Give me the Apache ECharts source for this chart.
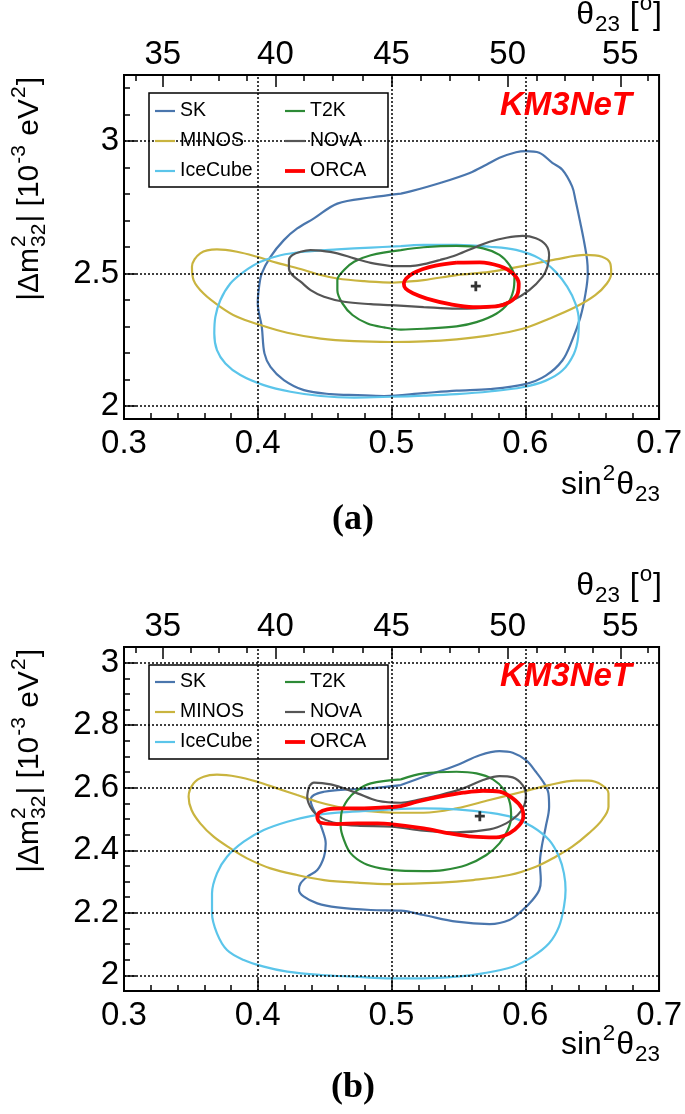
<!DOCTYPE html>
<html><head><meta charset="utf-8">
<script src="https://cdn.jsdelivr.net/npm/echarts@6/dist/echarts.min.js"></script>
<style>html,body{margin:0;padding:0;background:#fff}#c{width:685px;height:1114px}</style>
</head><body><div id="c"></div><script>
// ---------- tick labels ----------
const xTicks = [0.3, 0.4, 0.5, 0.6, 0.7];
const thetaTicks = [35, 40, 45, 50, 55];
const thetaMinor = [33.75,35,36.25,37.5,38.75,40,41.25,42.5,43.75,45,46.25,47.5,48.75,50,51.25,52.5,53.75,55,56.25];
const yMajorA = [2, 2.5, 3];
const yMinorA = [2.0,2.1,2.2,2.3,2.4,2.5,2.6,2.7,2.8,2.9,3.0,3.1,3.2];
const yMajorB = [2, 2.2, 2.4, 2.6, 2.8, 3];
const yMinorB = [2.0,2.05,2.1,2.15,2.2,2.25,2.3,2.35,2.4,2.45,2.5,2.55,2.6,2.65,2.7,2.75,2.8,2.85,2.9,2.95,3.0];
const seriesNames = ['SK','MINOS','IceCube','T2K','NOvA','ORCA'];

// ---------- panel (a) contours ----------
const skA = [[0.507,2.802],[0.4845,2.787],[0.4595,2.764],[0.442,2.708],[0.4295,2.670],[0.4195,2.626],[0.4095,2.563],[0.403,2.5],[0.401,2.45],[0.400,2.387],[0.403,2.298],[0.405,2.198],[0.4095,2.147],[0.4195,2.097],[0.4345,2.059],[0.4545,2.044],[0.4745,2.040],[0.4945,2.037],[0.524,2.048],[0.5486,2.057],[0.5733,2.063],[0.6,2.082],[0.6153,2.114],[0.6277,2.171],[0.635,2.247],[0.6412,2.335],[0.645,2.424],[0.6467,2.5],[0.6462,2.551],[0.6437,2.627],[0.6412,2.690],[0.6375,2.778],[0.635,2.829],[0.6277,2.892],[0.6202,2.918],[0.6104,2.956],[0.6005,2.962],[0.5931,2.958],[0.5807,2.937],[0.5709,2.911],[0.5585,2.880],[0.5363,2.842],[0.5141,2.810]];
const minosA = [[0.5,2.465],[0.524,2.475],[0.5486,2.494],[0.5733,2.506],[0.598,2.528],[0.6227,2.553],[0.6449,2.570],[0.6573,2.563],[0.6635,2.538],[0.6642,2.5],[0.661,2.462],[0.6523,2.418],[0.6375,2.373],[0.6178,2.329],[0.598,2.291],[0.5733,2.266],[0.5486,2.251],[0.524,2.243],[0.4993,2.241],[0.472,2.244],[0.447,2.254],[0.422,2.276],[0.402,2.305],[0.3845,2.336],[0.372,2.374],[0.3595,2.424],[0.352,2.475],[0.3508,2.525],[0.357,2.576],[0.3695,2.591],[0.3845,2.582],[0.3995,2.563],[0.4145,2.540],[0.4345,2.513],[0.447,2.494],[0.4595,2.481],[0.4795,2.471]];
const icecubeA = [[0.507,2.603],[0.4845,2.598],[0.4595,2.591],[0.4345,2.582],[0.417,2.569],[0.402,2.544],[0.3895,2.506],[0.3795,2.462],[0.372,2.399],[0.3683,2.336],[0.3675,2.273],[0.3695,2.210],[0.3758,2.160],[0.387,2.116],[0.4045,2.078],[0.4245,2.053],[0.447,2.037],[0.472,2.031],[0.5,2.034],[0.524,2.038],[0.5486,2.044],[0.5733,2.054],[0.598,2.070],[0.6153,2.095],[0.6277,2.133],[0.6363,2.196],[0.6395,2.259],[0.64,2.323],[0.6375,2.386],[0.6314,2.449],[0.6227,2.506],[0.6104,2.557],[0.5931,2.589],[0.5733,2.601],[0.5486,2.608],[0.524,2.608]];
const t2kA = [[0.507,2.588],[0.4845,2.569],[0.472,2.544],[0.4645,2.513],[0.4595,2.475],[0.4595,2.437],[0.4633,2.387],[0.4708,2.343],[0.482,2.311],[0.4945,2.296],[0.507,2.288],[0.524,2.291],[0.5486,2.300],[0.5635,2.316],[0.5783,2.348],[0.5869,2.386],[0.5911,2.437],[0.5919,2.487],[0.5881,2.532],[0.5807,2.570],[0.5684,2.595],[0.5486,2.604],[0.524,2.599]];
const novaA = [[0.4995,2.528],[0.4845,2.540],[0.472,2.557],[0.4595,2.576],[0.447,2.586],[0.4395,2.588],[0.432,2.582],[0.4258,2.569],[0.4233,2.550],[0.4233,2.519],[0.4258,2.494],[0.432,2.469],[0.4395,2.437],[0.4495,2.412],[0.4645,2.393],[0.4845,2.384],[0.5,2.380],[0.524,2.373],[0.5486,2.367],[0.5733,2.373],[0.5906,2.399],[0.603,2.437],[0.6128,2.487],[0.6165,2.525],[0.6178,2.570],[0.6153,2.608],[0.6079,2.633],[0.598,2.642],[0.5857,2.635],[0.5733,2.620],[0.5635,2.601],[0.5486,2.570],[0.5363,2.551],[0.524,2.535],[0.5141,2.528]];
const orcaA = [[0.5486,2.541],[0.5659,2.542],[0.5807,2.528],[0.5906,2.5],[0.5951,2.462],[0.5943,2.424],[0.5881,2.392],[0.5783,2.376],[0.561,2.373],[0.5437,2.384],[0.5264,2.405],[0.5160,2.425],[0.5105,2.443],[0.5092,2.462],[0.5110,2.481],[0.5160,2.500],[0.5230,2.516],[0.5330,2.530]];
const bestA = [[0.563,2.452]];

// ---------- panel (b) contours ----------
const skB = [[0.507,2.6085],[0.4845,2.598],[0.4595,2.5925],[0.4495,2.587],[0.442,2.5766],[0.4395,2.561],[0.4408,2.539],[0.4445,2.507],[0.4483,2.465],[0.4508,2.422],[0.4495,2.379],[0.4445,2.337],[0.437,2.3155],[0.432,2.294],[0.4308,2.273],[0.4345,2.2516],[0.4445,2.2303],[0.4595,2.2175],[0.4845,2.209],[0.507,2.207],[0.524,2.193],[0.5486,2.1717],[0.5733,2.164],[0.5881,2.177],[0.598,2.209],[0.6054,2.241],[0.6104,2.273],[0.6116,2.305],[0.6109,2.358],[0.6123,2.4114],[0.6153,2.4753],[0.6178,2.539],[0.6173,2.582],[0.6141,2.614],[0.6079,2.651],[0.6005,2.688],[0.5906,2.712],[0.5807,2.717],[0.5659,2.704],[0.5486,2.672],[0.524,2.635]];
const minosB = [[0.5,2.5201],[0.524,2.520],[0.5486,2.534],[0.5733,2.5606],[0.598,2.5872],[0.6178,2.6085],[0.6375,2.6224],[0.6474,2.6224],[0.6573,2.6085],[0.6622,2.5819],[0.6622,2.5393],[0.6573,2.4966],[0.6474,2.454],[0.6351,2.4114],[0.6227,2.3794],[0.6079,2.3475],[0.5881,2.3208],[0.561,2.3048],[0.5363,2.2963],[0.4993,2.292],[0.4745,2.2963],[0.4495,2.3048],[0.4295,2.3208],[0.4095,2.3421],[0.392,2.3741],[0.3795,2.4061],[0.367,2.4434],[0.357,2.486],[0.3505,2.5286],[0.3483,2.5712],[0.352,2.6139],[0.3595,2.6352],[0.3695,2.6416],[0.3845,2.6352],[0.3995,2.6192],[0.4145,2.598],[0.4295,2.5766],[0.4445,2.5553],[0.4595,2.5393],[0.4745,2.5286]];
const icecubeB = [[0.5,2.5307],[0.4845,2.5265],[0.4595,2.5201],[0.4395,2.5094],[0.422,2.4913],[0.4045,2.4647],[0.3895,2.4274],[0.377,2.3794],[0.3695,2.3262],[0.3658,2.2622],[0.3658,2.1983],[0.3695,2.1344],[0.377,2.0811],[0.3895,2.0491],[0.4045,2.0278],[0.422,2.0118],[0.447,2.0012],[0.472,1.9958],[0.5,1.9905],[0.524,1.9905],[0.5486,1.9958],[0.5684,2.0065],[0.5906,2.0278],[0.6054,2.0598],[0.6178,2.1024],[0.6252,2.1557],[0.6289,2.2196],[0.6301,2.2729],[0.6289,2.3262],[0.6252,2.3794],[0.6178,2.4327],[0.6054,2.4753],[0.5906,2.5052],[0.5733,2.5201],[0.5486,2.5307],[0.524,2.534]];
const t2kB = [[0.507,2.6266],[0.4845,2.6139],[0.4745,2.5925],[0.467,2.5606],[0.4625,2.518],[0.462,2.4753],[0.4645,2.4327],[0.4695,2.39],[0.4795,2.3581],[0.492,2.3421],[0.507,2.3347],[0.524,2.3336],[0.5388,2.3368],[0.556,2.3528],[0.5709,2.3848],[0.5807,2.422],[0.5869,2.4647],[0.5894,2.5073],[0.5886,2.5499],[0.5844,2.5925],[0.5758,2.6266],[0.5635,2.6458],[0.5486,2.6511],[0.524,2.6458]];
const novaB = [[0.4383,2.6032],[0.442,2.616],[0.4545,2.6107],[0.4645,2.5979],[0.4745,2.5819],[0.4895,2.5584],[0.507,2.552],[0.519,2.5606],[0.5363,2.5766],[0.5536,2.5979],[0.5684,2.6245],[0.5807,2.6373],[0.5906,2.633],[0.598,2.6085],[0.6005,2.5766],[0.5993,2.5446],[0.5943,2.5126],[0.5857,2.486],[0.5733,2.4668],[0.5486,2.4572],[0.524,2.4625],[0.5,2.4753],[0.4745,2.4785],[0.4595,2.486],[0.4483,2.502],[0.4408,2.5286],[0.437,2.5712]];
const orcaB = [[0.4795,2.5339],[0.4945,2.5371],[0.507,2.5414],[0.519,2.5552],[0.5363,2.5712],[0.5536,2.584],[0.5684,2.5904],[0.5807,2.5872],[0.5906,2.5659],[0.5975,2.5339],[0.5985,2.5073],[0.5956,2.4807],[0.5881,2.454],[0.5783,2.4412],[0.561,2.4434],[0.5437,2.454],[0.524,2.47],[0.4993,2.4839],[0.4895,2.486],[0.4745,2.486],[0.4595,2.4839],[0.447,2.4881],[0.4445,2.5052],[0.4458,2.5201],[0.452,2.5307],[0.4645,2.5339]];
const bestB = [[0.566,2.509]];

// ---------- styles ----------
const FONT = '"Liberation Sans", Arial, Helvetica, sans-serif';
const COLORS = {SK:'#4a76ad', MINOS:'#c9b43f', IceCube:'#5bc5ea', T2K:'#2d8a36', NOvA:'#555555', ORCA:'#ff0000'};
const WIDTHS = {SK:2.2, MINOS:2.2, IceCube:2.2, T2K:2.2, NOvA:2.2, ORCA:3.8};

function sin2(d){const s=Math.sin(d*Math.PI/180);return s*s;}
function deg(v){return Math.asin(Math.sqrt(v))*180/Math.PI;}
function closeLoop(a){return a.concat([a[0]]);}

const panels = [
  {top:75, height:344, ymin:1.95, ymax:3.25, yMajor:yMajorA, yMinor:yMinorA,
   curves:{SK:skA, MINOS:minosA, IceCube:icecubeA, T2K:t2kA, NOvA:novaA, ORCA:orcaA}, best:bestA, gridY:yMajorA},
  {top:647, height:344, ymin:1.95, ymax:3.05, yMajor:yMajorB, yMinor:yMinorB,
   curves:{SK:skB, MINOS:minosB, IceCube:icecubeB, T2K:t2kB, NOvA:novaB, ORCA:orcaB}, best:bestB, gridY:yMajorB}
];

const tickLine = {color:'#000', width:1.5};
const labelStyle = {color:'#000', fontSize:33, fontFamily:FONT};
const grids=[], xAxes=[], yAxes=[], series=[];
panels.forEach((p,i)=>{
  grids.push({left:124, width:538, top:p.top, height:p.height, show:true, borderColor:'#000', borderWidth:2, backgroundColor:'transparent'});
  xAxes.push({type:'value', gridIndex:i, position:'bottom', min:0.3, max:0.7, interval:0.1,
    axisLine:{show:false, onZero:false},
    axisTick:{show:true, inside:true, length:12, lineStyle:tickLine},
    minorTick:{show:true, splitNumber:5, length:6, lineStyle:tickLine},
    splitLine:{show:false}, minorSplitLine:{show:false},
    axisLabel:Object.assign({margin:8, formatter:v=>v.toFixed(1)}, labelStyle)});
  const thPos = thetaTicks.map(sin2);
  xAxes.push({type:'value', gridIndex:i, position:'top', min:0.3, max:0.7,
    axisLine:{show:false, onZero:false},
    axisTick:{show:true, inside:true, length:12, customValues:thPos, lineStyle:tickLine},
    splitLine:{show:false},
    axisLabel:Object.assign({margin:4, customValues:thPos, formatter:v=>String(Math.round(deg(v)))}, labelStyle)});
  xAxes.push({type:'value', gridIndex:i, position:'top', min:0.3, max:0.7,
    axisLine:{show:false, onZero:false},
    axisTick:{show:true, inside:true, length:6, customValues:thetaMinor.map(sin2), lineStyle:tickLine},
    splitLine:{show:false}, axisLabel:{show:false}});
  yAxes.push({type:'value', gridIndex:i, position:'left', min:p.ymin, max:p.ymax,
    axisLine:{show:false, onZero:false},
    axisTick:{show:true, inside:true, length:12, customValues:p.yMajor, lineStyle:tickLine},
    splitLine:{show:false},
    axisLabel:Object.assign({margin:5, customValues:p.yMajor, formatter:v=>String(v)}, labelStyle)});
  yAxes.push({type:'value', gridIndex:i, position:'left', min:p.ymin, max:p.ymax,
    axisLine:{show:false, onZero:false},
    axisTick:{show:true, inside:true, length:6, customValues:p.yMinor, lineStyle:tickLine},
    splitLine:{show:false}, axisLabel:{show:false}});

  seriesNames.forEach((n,k)=>{
    const s = {type:'line', name:n, xAxisIndex:3*i, yAxisIndex:2*i, data:closeLoop(p.curves[n]),
      symbol:'none', showSymbol:false, smooth:0.35, silent:true, z:2,
      legendIcon: n==='ORCA' ? 'path://M0,0H20V3.8H0Z' : 'path://M0,0H20V2.2H0Z',
      lineStyle:{color:COLORS[n], width:WIDTHS[n]}, itemStyle:{color:COLORS[n]}};
    if(k===0){
      const md = xTicks.filter(v=>v>0.3&&v<0.7).map(v=>({xAxis:v})).concat(p.gridY.map(v=>({yAxis:v})));
      s.markLine = {silent:true, symbol:'none', label:{show:false}, animation:false,
        lineStyle:{color:'#000', width:1.5, type:[2,2], opacity:1}, emphasis:{disabled:true}, data:md};
    }
    series.push(s);
  });
  series.push({type:'scatter', name:'best', xAxisIndex:3*i, yAxisIndex:2*i, data:p.best, silent:true, z:5,
    symbol:'path://M3.6,0H6.4V3.6H10V6.4H6.4V10H3.6V6.4H0V3.6H3.6Z', symbolSize:10, itemStyle:{color:'#000'}});
});

// ---------- legends ----------
const legends=[];
[101,672].forEach(ty=>{
  [[155,['SK','MINOS','IceCube']],[285,['T2K','NOvA','ORCA']]].forEach(([lx,names])=>{
    legends.push({data:names.map(n=>({name:n, icon: n==='ORCA' ? 'path://M0,0H20V3.8H0Z' : 'path://M0,0H20V2.2H0Z'})),
      orient:'vertical', left:lx, top:ty, itemGap:10, itemWidth:20, itemHeight:14,
      padding:0, selectedMode:false, z:10, itemStyle:{borderWidth:0},
      textStyle:{fontSize:19.5, color:'#000', fontFamily:FONT}});
  });
});

// ---------- composite titles ----------
const mctx = document.createElement('canvas').getContext('2d');
function tw(t,size){mctx.font=size+'px '+FONT;return mctx.measureText(t).width;}
function txt(t,x,y,size){return {type:'text', x:x, y:y, z:20,
  style:{text:t, fontSize:size, fontFamily:FONT, fill:'#000', align:'left', textAlign:'left', verticalAlign:'middle', textVerticalAlign:'middle'}};}
function buildTitle(segs,F){
  const S=F*0.7; let x=0; const ch=[];
  segs.forEach(s=>{
    if(s.t!==undefined){ch.push(txt(s.t,x,0,F)); x+=tw(s.t,F);}
    else {let w=0;
      if(s.sup!==undefined){ch.push(txt(s.sup,x+1,-0.36*F,S)); w=Math.max(w,tw(s.sup,S));}
      if(s.sub!==undefined){ch.push(txt(s.sub,x+1,0.3*F,S)); w=Math.max(w,tw(s.sub,S));}
      x+=w+2;}
  });
  return {children:ch, width:x};
}
const yTitleSegs=[{t:'|\u0394m'},{sup:'2',sub:'32'},{t:'| [10'},{sup:'-3'},{t:' eV'},{sup:'2'},{t:']'}];
const xTitleSegs=[{t:'sin'},{sup:'2'},{t:'\u03B8'},{sub:'23'}];
const tTitleSegs=[{t:'\u03B8'},{sub:'23'},{t:' ['},{sup:'o'},{t:']'}];

const graphics=[];
[[0,93,106,520,75,485,15],[571,665,677,1088,647,1045,586]].forEach(([off,boxTop,kmY,labY,frameTop,xtY,ttY])=>{
  graphics.push({type:'rect', shape:{x:149, y:boxTop, width:239, height:94}, z:3,
    style:{fill:'#fff', stroke:'#000', lineWidth:1.5}});
  graphics.push({type:'text', x:632, y:kmY, z:20, style:{text:'KM3NeT', fontSize:33, fontWeight:'bold', fontStyle:'italic',
    fontFamily:FONT, fill:'#ff0000', align:'right', textAlign:'right', verticalAlign:'middle', textVerticalAlign:'middle'}});
  graphics.push({type:'text', x:353, y:labY, z:20, style:{text: off===0?'(a)':'(b)', fontSize:36, fontWeight:'bold',
    fontFamily:'"Liberation Serif", "Times New Roman", serif', fill:'#000', align:'center', textAlign:'center', verticalAlign:'middle', textVerticalAlign:'middle'}});
  const yt=buildTitle(yTitleSegs,30);
  graphics.push({type:'group', x:30, y:frameTop+2+yt.width, rotation:Math.PI/2, children:yt.children});
  const xt=buildTitle(xTitleSegs,32);
  graphics.push({type:'group', x:661-xt.width, y:xtY, children:xt.children});
  const tt=buildTitle(tTitleSegs,32);
  graphics.push({type:'group', x:662-tt.width, y:ttY, children:tt.children});
});

const chart = echarts.init(document.getElementById('c'), null, {renderer:'canvas'});
chart.setOption({animation:false, backgroundColor:'#fff', grid:grids, xAxis:xAxes, yAxis:yAxes,
  legend:legends, series:series, graphic:graphics});
</script></body></html>
